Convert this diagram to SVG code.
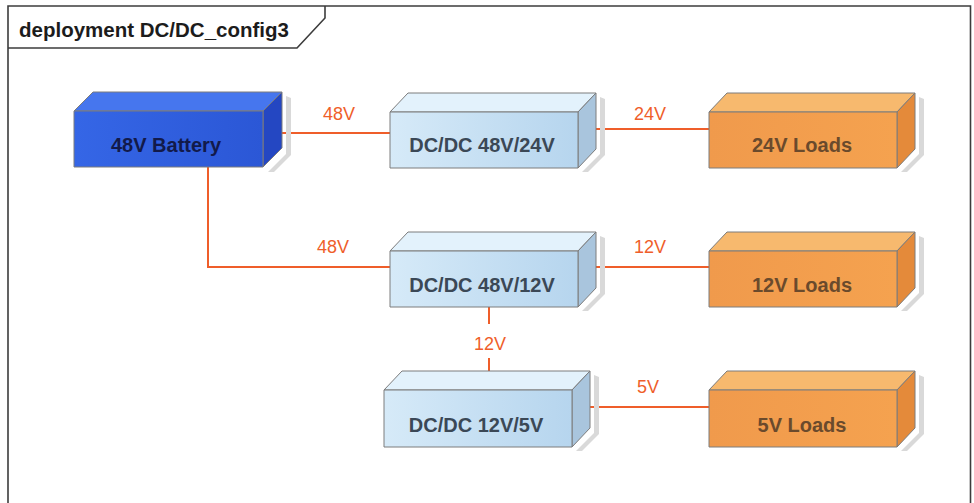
<svg xmlns="http://www.w3.org/2000/svg" width="974" height="503" viewBox="0 0 974 503">
  <defs>
    <linearGradient id="batFront" x1="0" y1="0" x2="1" y2="0">
      <stop offset="0" stop-color="#3566e6"/>
      <stop offset="1" stop-color="#2b57d6"/>
    </linearGradient>
    <linearGradient id="convFront" x1="0" y1="0" x2="1" y2="0">
      <stop offset="0" stop-color="#d6eaf8"/>
      <stop offset="1" stop-color="#b6d5ee"/>
    </linearGradient>
    <linearGradient id="loadFront" x1="0" y1="0" x2="1" y2="0">
      <stop offset="0" stop-color="#f09a4c"/>
      <stop offset="1" stop-color="#f5a24f"/>
    </linearGradient>
    <style>
      .frame { fill: none; stroke: #3c3c3c; stroke-width: 1.6; }
      .title { font-family: "Liberation Sans", Arial, sans-serif; font-weight: bold; font-size: 20.5px; fill: #1c1c1c; }
      .wire { fill: none; stroke: #ef5e2a; stroke-width: 2; }
      .vlabel { font-family: "Liberation Sans", Arial, sans-serif; font-size: 18px; fill: #ef5e2a; text-anchor: middle; }
      .shadow { fill: #d9d9d9; }
      .edge { stroke: #7c7c7c; stroke-width: 1; stroke-linejoin: round; }
      .bat-front { fill: url(#batFront); }
      .bat-top { fill: #4676ee; }
      .bat-side { fill: #2447c2; }
      .conv-front { fill: url(#convFront); }
      .conv-top { fill: #e3f2fc; }
      .conv-side { fill: #a9c5dd; }
      .load-front { fill: url(#loadFront); }
      .load-top { fill: #f7b96e; }
      .load-side { fill: #e48a3a; }
      .name { font-family: "Liberation Sans", Arial, sans-serif; font-weight: bold; font-size: 20px; text-anchor: middle; }
      .bat-text { fill: #121a4a; }
      .conv-text { fill: #3b4856; }
      .load-text { fill: #6a4a2c; }
    </style>
  </defs>

  <rect x="0" y="0" width="974" height="503" fill="#ffffff"/>

  <!-- diagram frame with its name tab -->
  <g id="frame">
    <path class="frame" d="M8,503 V6 H970.5 V503"/>
    <path class="frame" d="M325,6 V18 L297,48 H8"/>
    <text class="title" x="19" y="37">deployment DC/DC_config3</text>
  </g>

  <!-- connectors, drawn beneath the nodes -->
  <g id="connectors">
    <path class="wire" d="M281,133 H391"/>
    <text class="vlabel" x="339" y="120">48V</text>

    <path class="wire" d="M596,129 H710"/>
    <text class="vlabel" x="650" y="120">24V</text>

    <path class="wire" d="M208,167 V267 H391"/>
    <text class="vlabel" x="333" y="253">48V</text>

    <path class="wire" d="M596,267 H710"/>
    <text class="vlabel" x="650" y="253">12V</text>

    <path class="wire" d="M489,307 V324 M489,358 V380"/>
    <text class="vlabel" x="490" y="350">12V</text>

    <path class="wire" d="M590,407 H710"/>
    <text class="vlabel" x="648" y="393">5V</text>
  </g>

  <!-- 48V Battery -->
  <g id="battery48">
    <polygon class="shadow" points="286,96 286,154 268,172 274,172 291,155 291,98"/>
    <polygon class="bat-top edge" points="74,111 93,92 282,92 263,111"/>
    <polygon class="bat-side edge" points="263,111 282,92 282,148 263,167"/>
    <rect class="bat-front edge" x="74" y="111" width="189" height="56"/>
    <text class="name bat-text" x="166" y="152">48V Battery</text>
  </g>

  <!-- DC/DC 48V/24V -->
  <g id="dcdc48to24">
    <polygon class="shadow" points="600,97 600,154 582,172 588,172 605,155 605,99"/>
    <polygon class="conv-top edge" points="390,112 408,93 596,93 578,112"/>
    <polygon class="conv-side edge" points="578,112 596,93 596,149 578,168"/>
    <rect class="conv-front edge" x="390" y="112" width="188" height="56"/>
    <text class="name conv-text" x="482" y="152">DC/DC 48V/24V</text>
  </g>

  <!-- 24V Loads -->
  <g id="loads24">
    <polygon class="shadow" points="919,97 919,154 901,172 907,172 924,155 924,99"/>
    <polygon class="load-top edge" points="709,112 727,93 915,93 897,112"/>
    <polygon class="load-side edge" points="897,112 915,93 915,149 897,168"/>
    <rect class="load-front edge" x="709" y="112" width="188" height="56"/>
    <text class="name load-text" x="802" y="152">24V Loads</text>
  </g>

  <!-- DC/DC 48V/12V -->
  <g id="dcdc48to12">
    <polygon class="shadow" points="600,236 600,293 582,311 588,311 605,294 605,238"/>
    <polygon class="conv-top edge" points="390,251 408,232 596,232 578,251"/>
    <polygon class="conv-side edge" points="578,251 596,232 596,288 578,307"/>
    <rect class="conv-front edge" x="390" y="251" width="188" height="56"/>
    <text class="name conv-text" x="482" y="292">DC/DC 48V/12V</text>
  </g>

  <!-- 12V Loads -->
  <g id="loads12">
    <polygon class="shadow" points="919,236 919,293 901,311 907,311 924,294 924,238"/>
    <polygon class="load-top edge" points="709,251 727,232 915,232 897,251"/>
    <polygon class="load-side edge" points="897,251 915,232 915,288 897,307"/>
    <rect class="load-front edge" x="709" y="251" width="188" height="56"/>
    <text class="name load-text" x="802" y="292">12V Loads</text>
  </g>

  <!-- DC/DC 12V/5V -->
  <g id="dcdc12to5">
    <polygon class="shadow" points="594,375 594,433 576,451 582,451 599,434 599,377"/>
    <polygon class="conv-top edge" points="384,390 402,371 590,371 572,390"/>
    <polygon class="conv-side edge" points="572,390 590,371 590,428 572,447"/>
    <rect class="conv-front edge" x="384" y="390" width="188" height="57"/>
    <text class="name conv-text" x="476" y="432">DC/DC 12V/5V</text>
  </g>

  <!-- 5V Loads -->
  <g id="loads5">
    <polygon class="shadow" points="919,375 919,433 901,451 907,451 924,434 924,377"/>
    <polygon class="load-top edge" points="709,390 727,371 915,371 897,390"/>
    <polygon class="load-side edge" points="897,390 915,371 915,428 897,447"/>
    <rect class="load-front edge" x="709" y="390" width="188" height="57"/>
    <text class="name load-text" x="802" y="432">5V Loads</text>
  </g>
</svg>
